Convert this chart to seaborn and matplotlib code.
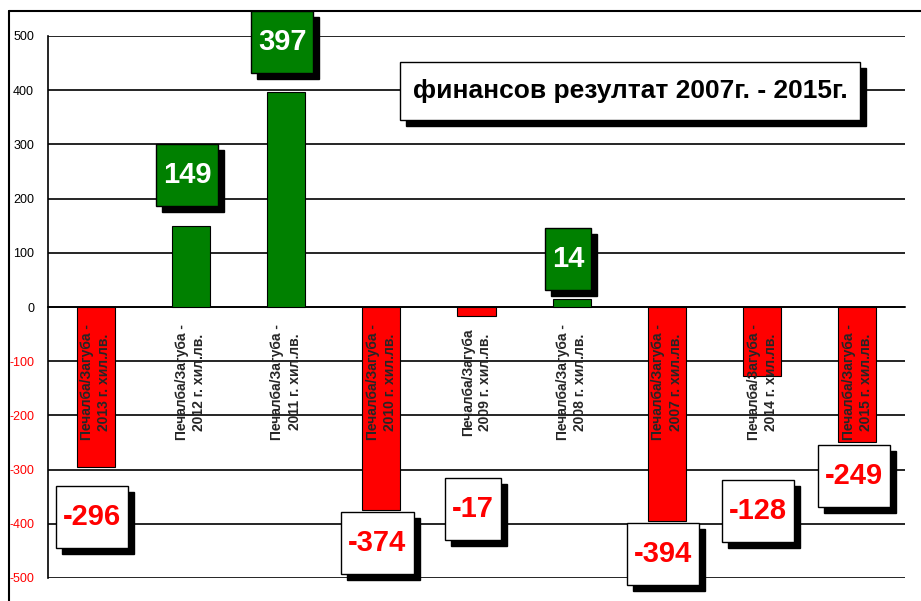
import matplotlib
matplotlib.use("Agg")
import matplotlib.pyplot as plt
import matplotlib.transforms as mtransforms
from matplotlib.patches import Rectangle
from matplotlib.lines import Line2D
import seaborn as sns

# ==========================
# Data
# ==========================
years = ["2013", "2012", "2011", "2010", "2009", "2008", "2007", "2014", "2015"]
values = [-296, 149, 397, -374, -17, 14, -394, -128, -249]
categories = ["Печалба/Загуба -\n" + y + " г. хил.лв." for y in years]
categories[4] = "Печалба/Загуба\n2009 г. хил.лв."
value_labels = ["-296", "149", "397", "-374", "-17", "14", "-394", "-128", "-249"]
# where the value boxes sit (data y of box centre)
label_y = [-388, 244, 489, -436, -372, 88, -455, -376, -311]
yticks = [-500, -400, -300, -200, -100, 0, 100, 200, 300, 400, 500]
title = "финансов резултат 2007г. - 2015г."

GREEN = "#008000"
RED = "#FF0000"
colors = [GREEN if v > 0 else RED for v in values]

sns.set_style("white")
plt.rcParams["font.family"] = ["Liberation Sans", "DejaVu Sans"]

fig = plt.figure(figsize=(9.21, 6.01), dpi=100)
ax = fig.add_axes([48 / 921, 1 - 578 / 601, (905 - 48) / 921, (578 - 36) / 601])

sns.barplot(
    x=categories,
    y=values,
    hue=categories,
    palette=colors,
    legend=False,
    width=0.4,
    edgecolor="black",
    linewidth=0.8,
    saturation=1,
    ax=ax,
    zorder=3
)

ax.set_xlim(-0.5, len(values) - 0.5)
ax.set_ylim(-500, 500)
ax.set_yticks(yticks)
ax.set_yticklabels([str(t) for t in yticks], fontsize=9)
for lab, t in zip(ax.get_yticklabels(), yticks):
    lab.set_color(RED if t < 0 else "black")
ax.tick_params(axis="y", direction="out", length=4, width=1, color="black", pad=6)
ax.yaxis.grid(True, color="black", linewidth=1.2)
ax.set_axisbelow(True)
ax.set_xlabel("")
ax.set_ylabel("")

# x axis on the zero line with small ticks between categories
ax.spines["bottom"].set_position(("data", 0))
ax.spines["bottom"].set_color("black")
ax.spines["bottom"].set_linewidth(1.2)
ax.spines["left"].set_color("black")
ax.spines["left"].set_linewidth(1.2)
ax.spines["top"].set_visible(False)
ax.spines["right"].set_visible(False)
ax.set_xticks([i + 0.5 for i in range(len(values))], minor=True)
ax.set_xticks(range(len(values)))
ax.set_xticklabels([])
ax.tick_params(axis="x", which="major", length=0)
ax.tick_params(axis="x", which="minor", direction="out", length=4, width=1, color="black")

# category labels, rotated, inside the plot
for i, cat in enumerate(categories):
    ax.annotate(
        cat,
        xy=(i, 0),
        xytext=(0, -54),
        textcoords="offset points",
        rotation=90,
        ha="center",
        va="center",
        multialignment="center",
        fontsize=10,
        fontweight="bold",
        linespacing=1.3,
        zorder=4
    )

# value labels in boxes with shadow
texts = []
for i, (v, lab, ly) in enumerate(zip(values, value_labels, label_y)):
    t = ax.text(
        i - 0.04, ly, lab,
        ha="center", va="center",
        fontsize=21, fontweight="bold",
        color="white" if v > 0 else RED,
        zorder=8, clip_on=False
    )
    texts.append((t, v))

title_txt = fig.text(
    630 / 921, 1 - 91 / 601, title,
    ha="center", va="center",
    fontsize=19, fontweight="bold", color="black", zorder=8
)

fig.canvas.draw()
renderer = fig.canvas.get_renderer()
ident = mtransforms.IdentityTransform()
shadow = 6

for t, v in texts:
    cx, cy = ax.transData.transform(t.get_position())
    bb = t.get_window_extent(renderer)
    w = bb.width + 14
    h = 62
    ax.add_patch(Rectangle((cx - w / 2 + shadow, cy - h / 2 - shadow), w, h,
                           facecolor="black", edgecolor="black", transform=ident,
                           clip_on=False, zorder=6))
    ax.add_patch(Rectangle((cx - w / 2, cy - h / 2), w, h,
                           facecolor=GREEN if v > 0 else "white", edgecolor="black",
                           linewidth=1, transform=ident, clip_on=False, zorder=7))

# title box
H = 601
fig.add_artist(Rectangle((400 + shadow, H - 120 - shadow), 460, 58, facecolor="black",
                         edgecolor="black", transform=ident, zorder=6))
fig.add_artist(Rectangle((400, H - 120), 460, 58, facecolor="white",
                         edgecolor="black", linewidth=1, transform=ident, zorder=7))

# outer chart border (top and left)
fig.add_artist(Line2D([9 / 921, 9 / 921], [0, 1 - 11 / 601], color="black", linewidth=1.5,
                      transform=fig.transFigure))
fig.add_artist(Line2D([9 / 921, 1], [1 - 11 / 601, 1 - 11 / 601], color="black", linewidth=1.5,
                      transform=fig.transFigure))

fig.savefig("out.png", dpi=100)
